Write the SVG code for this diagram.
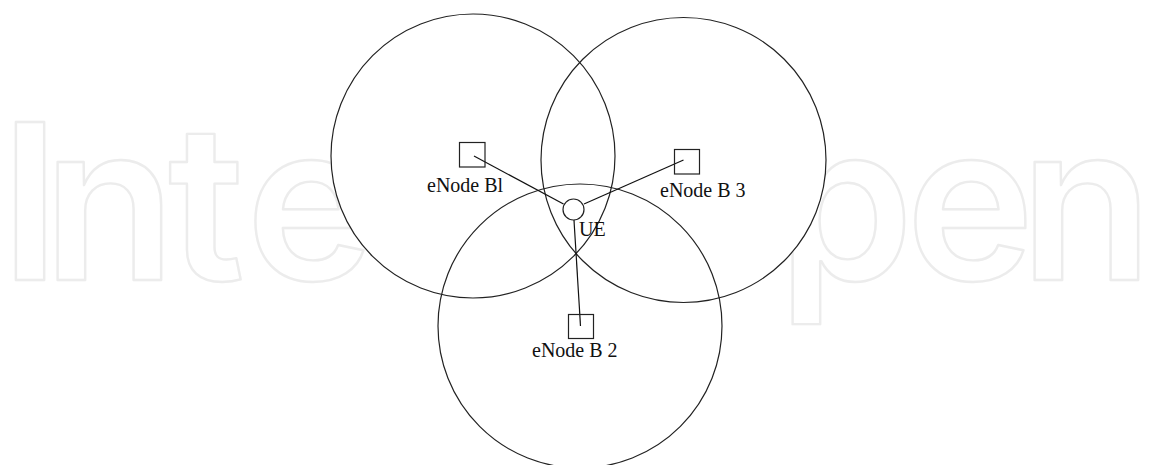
<svg xmlns="http://www.w3.org/2000/svg" width="1149" height="465" viewBox="0 0 1149 465">
<style>
.wm{font-family:Inter,"Noto Sans",sans-serif;font-size:217px;font-weight:600;fill:none;stroke:#ececec;stroke-width:2.4;stroke-linejoin:round}
.bg{fill:#ffffff;stroke:none}
.cell{fill:none;stroke:#222222;stroke-width:1.2}
.node{fill:#ffffff;stroke:#222222;stroke-width:1.2}
.lbl{font-family:"Liberation Serif","Times New Roman",serif;font-size:20px;fill:#111111}
.conn{stroke:#111111;stroke-width:1.2;fill:none}
</style>
<rect width="1149" height="465" fill="#ffffff"/>
<text class="wm" x="0 43 168 246 370 500 620 778 906 1020" y="280">IntechOpen</text>
<g id="coverage-fill">
<circle class="bg" cx="473" cy="156" r="142"/>
<circle class="bg" cx="683.5" cy="160" r="142.5"/>
<circle class="bg" cx="580" cy="326" r="142"/>
</g>
<g id="coverage">
<circle class="cell" cx="473" cy="156" r="142"/>
<circle class="cell" cx="683.5" cy="160" r="142.5"/>
<circle class="cell" cx="580" cy="326" r="142"/>
</g>
<g id="connectors">
<line class="conn" x1="474" y1="156" x2="563.5" y2="204"/>
<line class="conn" x1="683.5" y1="160" x2="584" y2="204"/>
<line class="conn" x1="574" y1="220" x2="580.5" y2="326"/>
</g>
<g id="enodeb1">
<rect class="node" x="459.5" y="142.5" width="25.5" height="24.5" style="fill:none"/>
<text class="lbl" x="427" y="192">eNode Bl</text>
</g>
<g id="enodeb3">
<rect class="node" x="674.5" y="149.5" width="25" height="24.5" style="fill:none"/>
<text class="lbl" x="660" y="197">eNode B 3</text>
</g>
<g id="enodeb2">
<rect class="node" x="568.5" y="314.5" width="25" height="24" style="fill:none"/>
<text class="lbl" x="532" y="357">eNode B 2</text>
</g>
<g id="ue">
<circle class="node" cx="573.5" cy="209.5" r="10.5"/>
<text class="lbl" x="579" y="236">UE</text>
</g>
</svg>
